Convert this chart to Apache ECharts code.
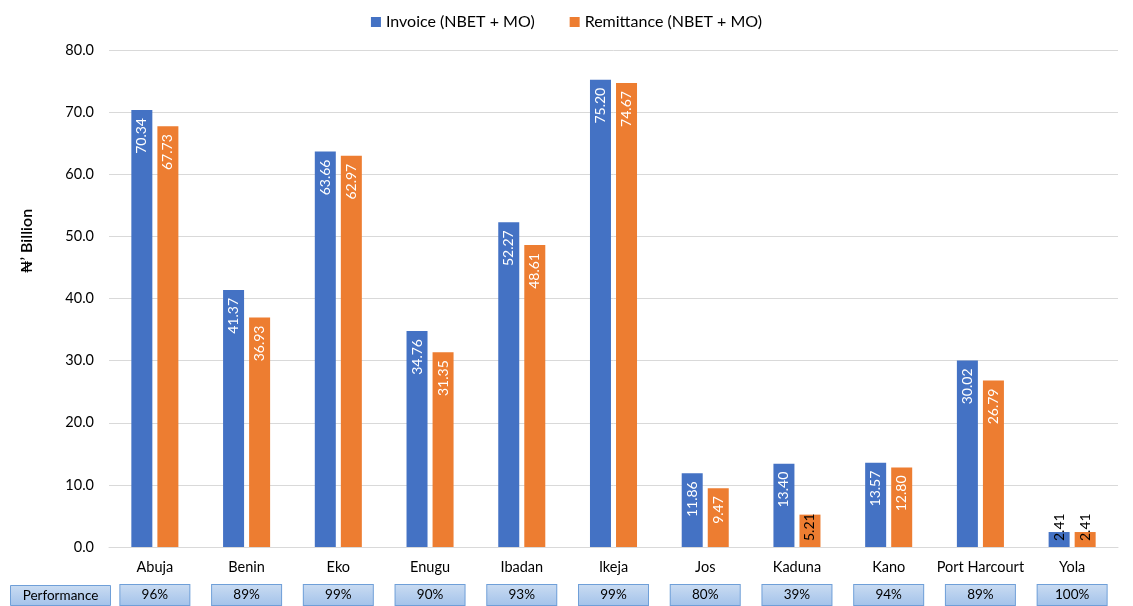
<!DOCTYPE html>
<html>
<head>
<meta charset="utf-8">
<script src="https://cdn.jsdelivr.net/npm/echarts@6/dist/echarts.min.js"></script>
<style>
  html, body { margin: 0; padding: 0; background: #ffffff; }
  #chart { width: 1133px; height: 606px; }
</style>
</head>
<body>
<div id="chart"></div>
<script>
// Distribution companies
const categories = ['Abuja', 'Benin', 'Eko', 'Enugu', 'Ibadan', 'Ikeja', 'Jos', 'Kaduna', 'Kano', 'Port Harcourt', 'Yola'];
// ₦ billion
const invoice = [70.34, 41.37, 63.66, 34.76, 52.27, 75.20, 11.86, 13.40, 13.57, 30.02, 2.41];
const remittance = [67.73, 36.93, 62.97, 31.35, 48.61, 74.67, 9.47, 5.21, 12.80, 26.79, 2.41];
// Remittance / invoice
const performance = ['96%', '89%', '99%', '90%', '93%', '99%', '80%', '39%', '94%', '89%', '100%'];
const seriesNames = ['Invoice (NBET + MO)', 'Remittance (NBET + MO)'];

const FONT = 'Lato, "DejaVu Sans", sans-serif';
const chart = echarts.init(document.getElementById('chart'), null, { renderer: 'canvas' });

const boxFill = new echarts.graphic.LinearGradient(0, 0, 0, 1, [
  { offset: 0, color: '#cadcf2' },
  { offset: 1, color: '#a3c2ea' }
]);

// Short bars get their value written from the base in dark text
function barData(values) {
  return values.map(v => {
    if (v < 8) {
      return {
        value: v,
        label: { position: 'insideBottom', align: 'left', color: '#000000', distance: 6 }
      };
    }
    return v;
  });
}

function barLabel() {
  return {
    show: true,
    rotate: 90,
    position: 'insideTop',
    align: 'right',
    verticalAlign: 'middle',
    distance: 8,
    color: '#ffffff',
    fontFamily: FONT,
    fontSize: 14,
    formatter: p => p.value.toFixed(2)
  };
}

chart.setOption({
  animation: false,
  backgroundColor: '#ffffff',
  textStyle: { fontFamily: FONT },
  legend: {
    top: 9,
    left: 'center',
    itemWidth: 10,
    itemHeight: 10,
    itemGap: 35,
    icon: 'rect',
    textStyle: { fontSize: 16, color: '#000000', fontFamily: FONT },
    data: seriesNames
  },
  grid: { left: 109, right: 15, top: 50, bottom: 59, containLabel: false },
  xAxis: [
    {
      type: 'category',
      data: categories,
      axisLine: { lineStyle: { color: '#d9d9d9' } },
      axisTick: { show: false },
      axisLabel: { color: '#000000', fontSize: 14.5, margin: 13, fontFamily: FONT, interval: 0 }
    },
    {
      type: 'category',
      position: 'bottom',
      data: categories,
      axisLine: { show: false },
      axisTick: { show: false },
      axisLabel: {
        interval: 0,
        margin: 38,
        color: '#000000',
        fontSize: 13.5,
        fontFamily: FONT,
        width: 69,
        height: 20,
        lineHeight: 20,
        align: 'center',
        verticalAlign: 'top',
        backgroundColor: boxFill,
        borderColor: '#6f9fd8',
        borderWidth: 1,
        formatter: (val, idx) => performance[idx]
      }
    }
  ],
  yAxis: {
    type: 'value',
    min: 0,
    max: 80,
    interval: 10,
    axisLine: { show: false },
    axisTick: { show: false },
    splitLine: { lineStyle: { color: '#d9d9d9' } },
    axisLabel: { color: '#000000', fontSize: 14.5, margin: 15, fontFamily: FONT, formatter: v => v.toFixed(1) }
  },
  series: [
    {
      name: seriesNames[0],
      type: 'bar',
      xAxisIndex: 0,
      barWidth: 21,
      barGap: '24%',
      itemStyle: { color: '#4472c4' },
      label: barLabel(),
      data: barData(invoice)
    },
    {
      name: seriesNames[1],
      type: 'bar',
      xAxisIndex: 0,
      barWidth: 21,
      barGap: '24%',
      itemStyle: { color: '#ed7d31' },
      label: barLabel(),
      data: barData(remittance)
    }
  ],
  graphic: [
    {
      type: 'text',
      rotation: Math.PI / 2,
      x: 27,
      y: 241,
      style: {
        text: '₦\u2019 Billion',
        fill: '#000000',
        font: '600 16px ' + FONT,
        textAlign: 'center',
        textVerticalAlign: 'middle'
      }
    },
    {
      type: 'group',
      left: 10,
      top: 585,
      children: [
        {
          type: 'rect',
          shape: { x: 0, y: 0, width: 100, height: 20 },
          style: { fill: boxFill, stroke: '#6f9fd8', lineWidth: 1 }
        },
        {
          type: 'text',
          x: 50,
          y: 10,
          style: {
            text: 'Performance',
            fill: '#000000',
            font: '13.5px ' + FONT,
            textAlign: 'center',
            textVerticalAlign: 'middle'
          }
        }
      ]
    }
  ]
});
</script>
</body>
</html>
